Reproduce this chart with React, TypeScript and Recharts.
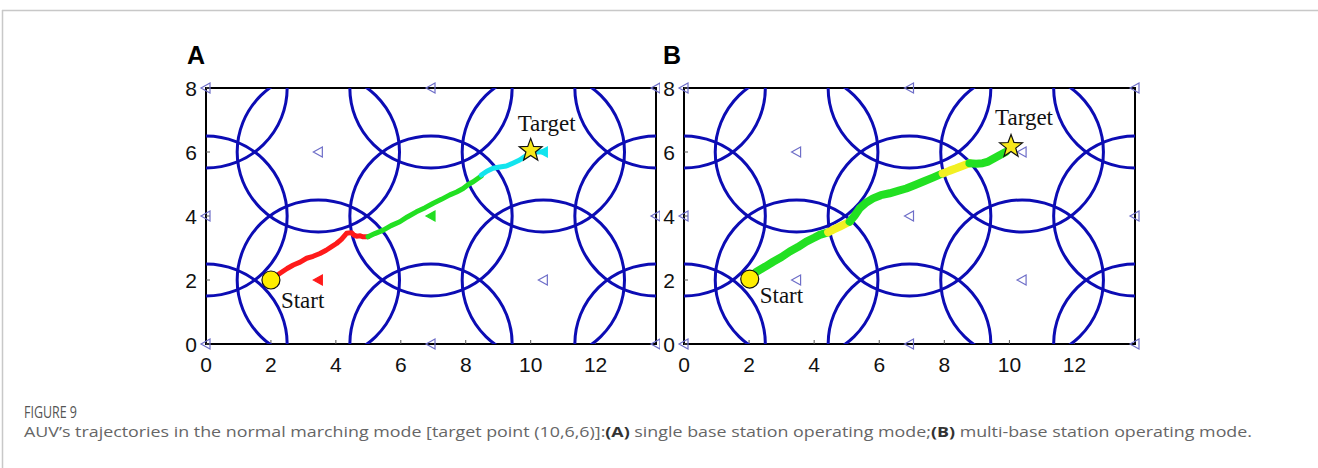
import React from "react";
import { ScatterChart, Scatter, XAxis, YAxis, ReferenceArea } from "recharts";

// axis ranges and ticks
const X_MAX = 13.86;
const Y_MAX = 8;
const xTicks = [0, 2, 4, 6, 8, 10, 12];
const yTicks = [0, 2, 4, 6, 8];
const COVER_RADIUS = 2.5;

// base stations (hexagonal layout)
const stations = [
  { x: 0, y: 0 }, { x: 0, y: 4 }, { x: 0, y: 8 },
  { x: 3.46, y: 2 }, { x: 3.46, y: 6 },
  { x: 6.93, y: 0 }, { x: 6.93, y: 4 }, { x: 6.93, y: 8 },
  { x: 10.39, y: 2 }, { x: 10.39, y: 6 },
  { x: 13.86, y: 0 }, { x: 13.86, y: 4 }, { x: 13.86, y: 8 },
];

// panel A: stations in use along the route
const activeRedA = [{ x: 3.46, y: 2 }];
const activeGreenA = [{ x: 6.93, y: 4 }];
const activeCyanA = [{ x: 10.39, y: 6 }];

const startA = [{ x: 2, y: 2 }];
const targetA = [{ x: 10, y: 6.05 }];
const startB = [{ x: 2.02, y: 2.03 }];
const targetB = [{ x: 10.05, y: 6.17 }];

const trackRedA = [
  { x: 2.05, y: 2.05 }, { x: 2.28, y: 2.21 }, { x: 2.5, y: 2.36 }, { x: 2.69, y: 2.47 },
  { x: 2.9, y: 2.56 }, { x: 3.1, y: 2.68 }, { x: 3.3, y: 2.74 }, { x: 3.51, y: 2.83 },
  { x: 3.7, y: 2.93 }, { x: 3.87, y: 3.04 }, { x: 4.02, y: 3.14 }, { x: 4.17, y: 3.27 },
  { x: 4.33, y: 3.46 }, { x: 4.48, y: 3.48 }, { x: 4.56, y: 3.4 }, { x: 4.64, y: 3.37 },
  { x: 4.75, y: 3.38 }, { x: 4.84, y: 3.35 }, { x: 4.99, y: 3.35 },
];
const trackGreenA = [
  { x: 4.99, y: 3.35 }, { x: 5.2, y: 3.45 }, { x: 5.46, y: 3.56 }, { x: 5.7, y: 3.7 },
  { x: 5.97, y: 3.82 }, { x: 6.2, y: 3.97 }, { x: 6.48, y: 4.13 }, { x: 6.75, y: 4.26 },
  { x: 7.0, y: 4.4 }, { x: 7.25, y: 4.52 }, { x: 7.51, y: 4.66 }, { x: 7.72, y: 4.75 },
  { x: 7.92, y: 4.86 }, { x: 8.1, y: 5.0 }, { x: 8.23, y: 5.07 }, { x: 8.48, y: 5.25 },
];
const trackCyanA = [
  { x: 8.48, y: 5.28 }, { x: 8.65, y: 5.4 }, { x: 8.84, y: 5.49 }, { x: 9.05, y: 5.53 },
  { x: 9.25, y: 5.56 }, { x: 9.45, y: 5.65 }, { x: 9.66, y: 5.75 }, { x: 9.82, y: 5.86 },
  { x: 9.97, y: 5.96 }, { x: 10.2, y: 6.0 }, { x: 10.43, y: 6.01 },
];

// panel B: green legs and yellow hand-over legs
const trackGreenB1 = [
  { x: 2.1, y: 2.15 }, { x: 2.23, y: 2.26 }, { x: 2.5, y: 2.42 }, { x: 2.74, y: 2.57 },
  { x: 3.0, y: 2.72 }, { x: 3.25, y: 2.89 }, { x: 3.5, y: 3.03 }, { x: 3.76, y: 3.2 },
  { x: 4.0, y: 3.32 }, { x: 4.17, y: 3.41 }, { x: 4.43, y: 3.49 },
];
const trackYellowB1 = [
  { x: 4.43, y: 3.49 }, { x: 4.6, y: 3.58 }, { x: 4.79, y: 3.67 }, { x: 5.09, y: 3.82 },
];
const trackGreenB2 = [
  { x: 5.09, y: 3.82 }, { x: 5.25, y: 4.02 }, { x: 5.4, y: 4.24 }, { x: 5.6, y: 4.42 },
  { x: 5.81, y: 4.55 }, { x: 6.05, y: 4.65 }, { x: 6.32, y: 4.71 }, { x: 6.6, y: 4.79 },
  { x: 6.83, y: 4.86 }, { x: 7.1, y: 4.97 }, { x: 7.34, y: 5.07 }, { x: 7.65, y: 5.2 },
  { x: 7.95, y: 5.33 },
];
const trackYellowB2 = [
  { x: 7.95, y: 5.33 }, { x: 8.15, y: 5.41 }, { x: 8.37, y: 5.49 }, { x: 8.77, y: 5.65 },
];
const trackGreenB3 = [
  { x: 8.77, y: 5.65 }, { x: 8.98, y: 5.63 }, { x: 9.18, y: 5.65 }, { x: 9.35, y: 5.7 },
  { x: 9.49, y: 5.78 }, { x: 9.7, y: 5.9 }, { x: 9.9, y: 6.01 },
];

const BLUE = "#0c0cb4";
const HOLLOW = "#6e6ec8";
const SANS = "'Liberation Sans', Arial, sans-serif";
const SERIF = "'Liberation Serif', 'Times New Roman', serif";

type Plot = { left: number; top: number; w: number; h: number };

const xTick = (p: any) => (
  <text x={p.x} y={p.y} dy="0.71em" textAnchor="middle" fontSize={21} fontFamily={SANS} fill="#111">
    {p.payload.value}
  </text>
);

const yTick = (p: any) => (
  <text x={p.x} y={p.y} dy="0.36em" textAnchor="end" fontSize={21} fontFamily={SANS} fill="#111">
    {p.payload.value}
  </text>
);

const coverShape = (plot: Plot) => (p: any) => {
  const rx = (COVER_RADIUS * plot.w) / X_MAX;
  const ry = (COVER_RADIUS * plot.h) / Y_MAX;
  return (
    <svg x={plot.left} y={plot.top} width={plot.w} height={plot.h} overflow="hidden">
      <ellipse cx={p.cx - plot.left} cy={p.cy - plot.top} rx={rx} ry={ry} fill="none" stroke={BLUE} strokeWidth={3} />
    </svg>
  );
};

const triangle = (fill: string, stroke: string) => (p: any) => (
  <polygon
    points={`${p.cx - 5},${p.cy} ${p.cx + 4},${p.cy - 5} ${p.cx + 4},${p.cy + 5}`}
    fill={fill}
    stroke={stroke}
    strokeWidth={1.2}
  />
);

const noDot = () => <g />;

const startShape = (dx: number, dy: number) => (p: any) => (
  <g>
    <circle cx={p.cx} cy={p.cy} r={9} fill="#ffee00" stroke="#111" strokeWidth={1.2} />
    <text x={p.cx + dx} y={p.cy + dy} fontSize={23} fontFamily={SERIF} fill="#111">
      Start
    </text>
  </g>
);

const starShape = (dx: number, dy: number) => (p: any) => {
  const pts: string[] = [];
  for (let i = 0; i < 10; i++) {
    const r = i % 2 === 0 ? 12 : 5;
    const a = -Math.PI / 2 + (i * Math.PI) / 5;
    pts.push(`${p.cx + r * Math.cos(a)},${p.cy + r * Math.sin(a)}`);
  }
  return (
    <g>
      <polygon points={pts.join(" ")} fill="#f7e81a" stroke="#111" strokeWidth={1.2} />
      <text x={p.cx + dx} y={p.cy + dy} textAnchor="middle" fontSize={23} fontFamily={SERIF} fill="#111">
        Target
      </text>
    </g>
  );
};

const track = (data: { x: number; y: number }[], color: string, width: number) => (
  <Scatter
    data={data}
    fill={color}
    line={{ stroke: color, strokeWidth: width, strokeLinejoin: "round", strokeLinecap: "round" }}
    shape={noDot}
    isAnimationActive={false}
  />
);

function Panel({
  width, margin, plot, hollow, children,
}: {
  width: number;
  margin: { top: number; right: number; bottom: number; left: number };
  plot: Plot;
  hollow: { x: number; y: number }[];
  children: React.ReactNode;
}) {
  return (
    <ScatterChart width={width} height={400} margin={margin}>
      <XAxis
        type="number"
        dataKey="x"
        domain={[0, X_MAX]}
        ticks={xTicks}
        interval={0}
        height={30}
        tick={xTick}
        tickSize={-4}
        tickMargin={17}
        axisLine={{ stroke: "#000", strokeWidth: 2 }}
        tickLine={{ stroke: "#555" }}
      />
      <YAxis
        type="number"
        dataKey="y"
        domain={[0, Y_MAX]}
        ticks={yTicks}
        interval={0}
        width={20}
        tick={yTick}
        tickSize={-4}
        tickMargin={13}
        axisLine={{ stroke: "#000", strokeWidth: 2 }}
        tickLine={{ stroke: "#555" }}
      />
      <ReferenceArea x1={0} x2={X_MAX} y1={0} y2={Y_MAX} fill="none" stroke="#000" strokeWidth={2} ifOverflow="visible" />
      <Scatter data={stations} shape={coverShape(plot)} isAnimationActive={false} />
      <Scatter data={hollow} shape={triangle("none", HOLLOW)} isAnimationActive={false} />
      {children}
    </ScatterChart>
  );
}

const plotA: Plot = { left: 206, top: 88, w: 450, h: 256 };
const plotB: Plot = { left: 24, top: 88, w: 451, h: 256 };

const isActiveA = (s: { x: number; y: number }) =>
  [...activeRedA, ...activeGreenA, ...activeCyanA].some((a) => a.x === s.x && a.y === s.y);

export default function App() {
  const caption = "'Open Sans', 'Noto Sans', sans-serif";
  return (
    <div style={{ position: "absolute", left: 0, top: 0, width: 1318, height: 468, background: "#fff", overflow: "hidden" }}>
      <div style={{ position: "absolute", left: 0, top: 0 }}>
        <Panel width={660} margin={{ top: 88, right: 4, bottom: 26, left: 186 }} plot={plotA} hollow={stations.filter((s) => !isActiveA(s))}>
          <Scatter data={activeRedA} shape={triangle("#ff1a1a", "#ff1a1a")} isAnimationActive={false} />
          <Scatter data={activeGreenA} shape={triangle("#22dd22", "#22dd22")} isAnimationActive={false} />
          {track(trackRedA, "#ff1a1a", 5)}
          {track(trackGreenA, "#22e022", 5)}
          {track(trackCyanA, "#12e4ee", 5)}
          <Scatter data={activeCyanA} shape={triangle("#12e4ee", "#12e4ee")} isAnimationActive={false} />
          <Scatter data={startA} shape={startShape(10, 28)} isAnimationActive={false} />
          <Scatter data={targetA} shape={starShape(16, -19)} isAnimationActive={false} />
        </Panel>
      </div>
      <div style={{ position: "absolute", left: 660, top: 0 }}>
        <Panel width={658} margin={{ top: 88, right: 183, bottom: 26, left: 4 }} plot={plotB} hollow={stations}>
          {track(trackGreenB1, "#22e022", 8)}
          {track(trackYellowB1, "#f2f022", 8)}
          {track(trackGreenB2, "#22e022", 8)}
          {track(trackYellowB2, "#f2f022", 8)}
          {track(trackGreenB3, "#22e022", 8)}
          <Scatter data={startB} shape={startShape(10, 24)} isAnimationActive={false} />
          <Scatter data={targetB} shape={starShape(13, -22)} isAnimationActive={false} />
        </Panel>
      </div>
      <svg width={1318} height={468} style={{ position: "absolute", left: 0, top: 0, pointerEvents: "none" }}>
        <line x1={2} y1={10.5} x2={1318} y2={10.5} stroke="#c8c8c8" strokeWidth={1.5} />
        <line x1={2.5} y1={10} x2={2.5} y2={468} stroke="#c8c8c8" strokeWidth={1.5} />
        <text x={187} y={64} fontSize={25} fontWeight="bold" fontFamily={SANS} fill="#000">A</text>
        <text x={663} y={64} fontSize={25} fontWeight="bold" fontFamily={SANS} fill="#000">B</text>
        <text x={24} y={418} fontSize={17} fontFamily={caption} fill="#555" textLength={53} lengthAdjust="spacingAndGlyphs">
          FIGURE 9
        </text>
        <text x={24} y={437} fontSize={14} fontFamily={caption} fill="#666" textLength={1228} lengthAdjust="spacingAndGlyphs">
          AUV’s trajectories in the normal marching mode [target point (10,6,6)]:
          <tspan fontWeight="bold" fill="#333">(A)</tspan> single base station operating mode;
          <tspan fontWeight="bold" fill="#333">(B)</tspan> multi-base station operating mode.
        </text>
      </svg>
    </div>
  );
}
